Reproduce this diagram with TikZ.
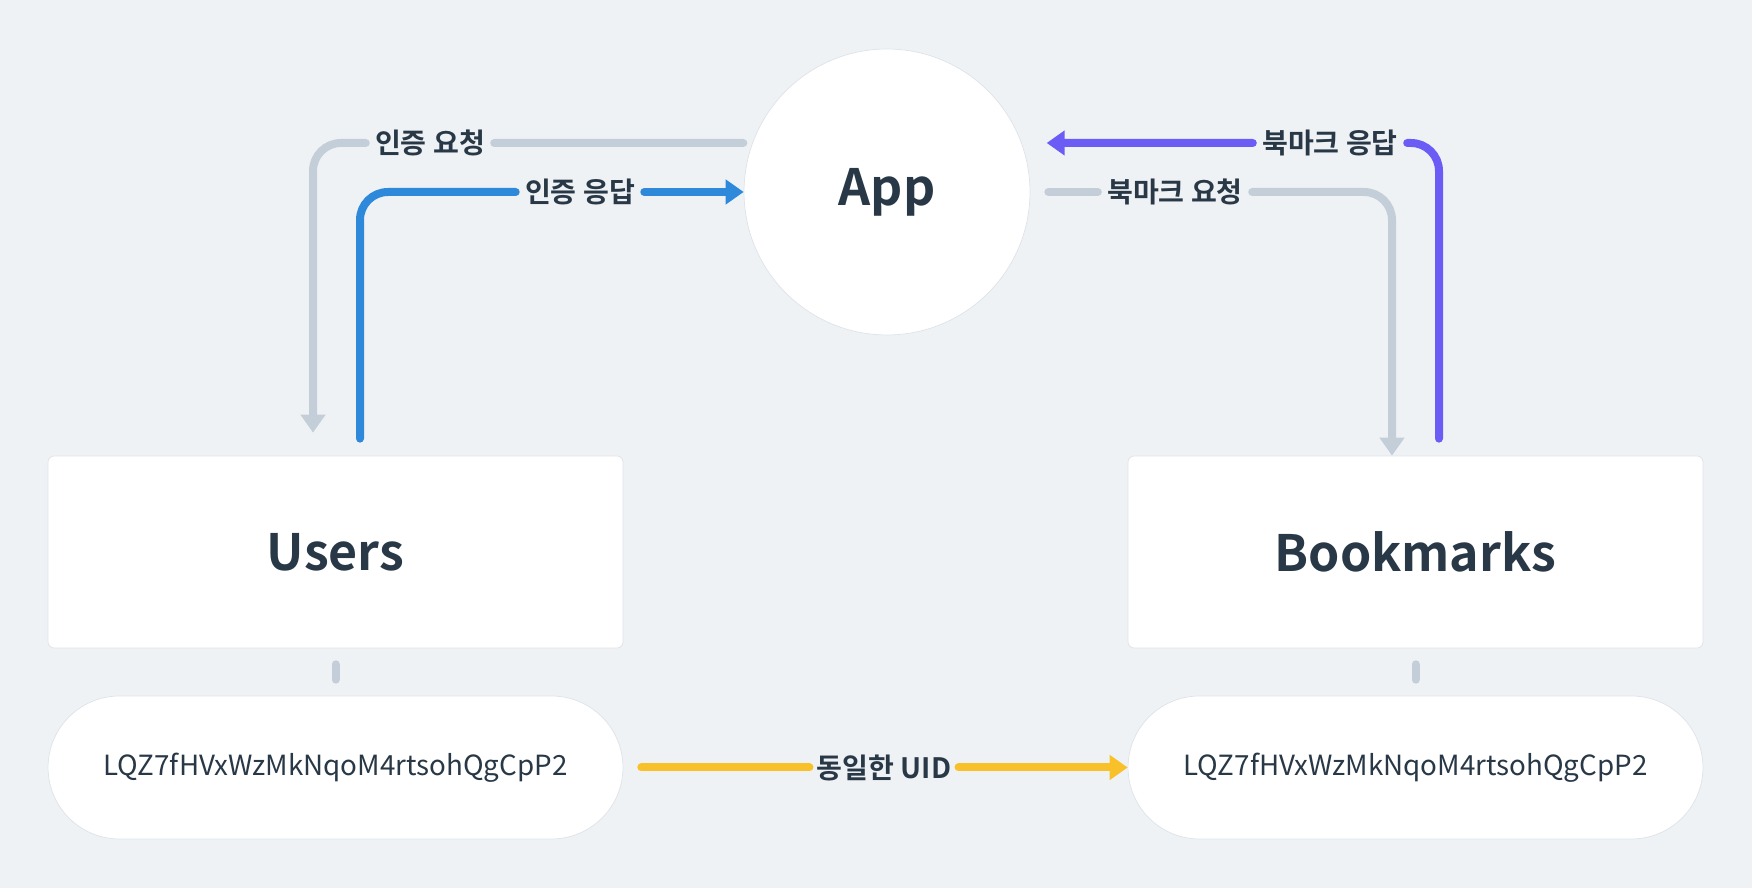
\documentclass[tikz,border=0pt]{standalone}
\usepackage{fontspec}
\setmainfont{Noto Sans CJK KR}[BoldFont={Noto Sans CJK KR Bold}]
\usetikzlibrary{arrows.meta,positioning,calc}
\definecolor{bgGray}{RGB}{239,242,245}
\definecolor{inkDark}{RGB}{41,56,70}
\definecolor{lineGray}{RGB}{195,206,216}
\definecolor{authBlue}{RGB}{46,137,219}
\definecolor{markPurple}{RGB}{106,92,245}
\definecolor{uidYellow}{RGB}{248,193,42}
\definecolor{edgeGray}{RGB}{222,227,232}

\begin{document}
\begin{tikzpicture}[x=0.02cm, y=0.02cm,
    card/.style={fill=white, draw=edgeGray, line width=0.4pt, rounded corners=0.12cm,
      minimum width=11.5cm, minimum height=3.84cm, inner sep=0pt},
    pill/.style={fill=white, draw=edgeGray, line width=0.4pt, rounded corners=1.43cm,
      minimum width=11.5cm, minimum height=2.86cm, inner sep=0pt},
    title/.style={font=\fontsize{28.5}{30}\selectfont\bfseries, text=inkDark},
    uidtext/.style={font=\fontsize{15.8}{17}\selectfont, text=inkDark},
    tag/.style={font=\fontsize{16}{18}\selectfont\bfseries, text=inkDark,
      inner xsep=0.18cm, inner ysep=0pt},
    flow/.style={line width=0.16cm, line cap=round, rounded corners=0.56cm},
    tip/.style={-{Triangle[width=0.48cm,length=0.36cm]}}
  ]
      \fill[bgGray] (0,0) rectangle (1752,888);

      % boxes
      \node[circle, fill=white, draw=edgeGray, line width=0.4pt, minimum size=5.72cm, title] (app) at (887,696) {App};
      \node[card, title] (users) at (335.5,336) {Users};
      \node[card, title] (bookmarks) at (1415.5,336) {Bookmarks};
      \node[pill, uidtext] (uidL) at (335.5,120.5) {LQZ7fHVxWzMkNqoM4rtsohQgCpP2};
      \node[pill, uidtext] (uidR) at (1415.5,120.5) {LQZ7fHVxWzMkNqoM4rtsohQgCpP2};

      % labels on the flows
      \node[tag] (lreq) at (430,745) {인증 요청};
      \node[tag] (lres) at (580,696) {인증 응답};
      \node[tag] (rres) at (1330,745) {북마크 응답};
      \node[tag] (rreq) at (1175,696) {북마크 요청};
      \node[tag, inner xsep=0.14cm] (same) at (884,120.5) {동일한 UID};

      \coordinate (uIn) at ($(users.north)+(-22.5,23)$);
      \coordinate (uOut) at ($(users.north)+(24.5,17)$);
      \coordinate (bIn) at ($(bookmarks.north)+(-23.5,0)$);
      \coordinate (bOut) at ($(bookmarks.north)+(23.5,17)$);

      % auth flow
      \draw[flow, lineGray] ($(app.160)+(-9,0)$) -- (lreq.east);
      \draw[flow, lineGray, tip] (lreq.west) -| (uIn);
      \draw[flow, authBlue] (uOut) |- (lres.west);
      \draw[flow, authBlue, tip] (lres.east) -- (app.west);

      % bookmark flow
      \draw[flow, markPurple] (bOut) |- (rres.east);
      \draw[flow, markPurple, tip] (rres.west) -- ($(app.20)+(25,0)$);
      \draw[flow, lineGray] ($(app.east)+(18,0)$) -- (rreq.west);
      \draw[flow, lineGray, tip] (rreq.east) -| (bIn);

      % uid links
      \draw[flow, lineGray, shorten >=0.32cm, shorten <=0.32cm] (users.south) -- (uidL.north);
      \draw[flow, lineGray, shorten >=0.32cm, shorten <=0.32cm] (bookmarks.south) -- (uidR.north);
      \draw[flow, uidYellow, shorten <=0.36cm] (uidL.east) -- (same.west);
      \draw[flow, uidYellow, tip] (same.east) -- (uidR.west);
\end{tikzpicture}
\end{document}
